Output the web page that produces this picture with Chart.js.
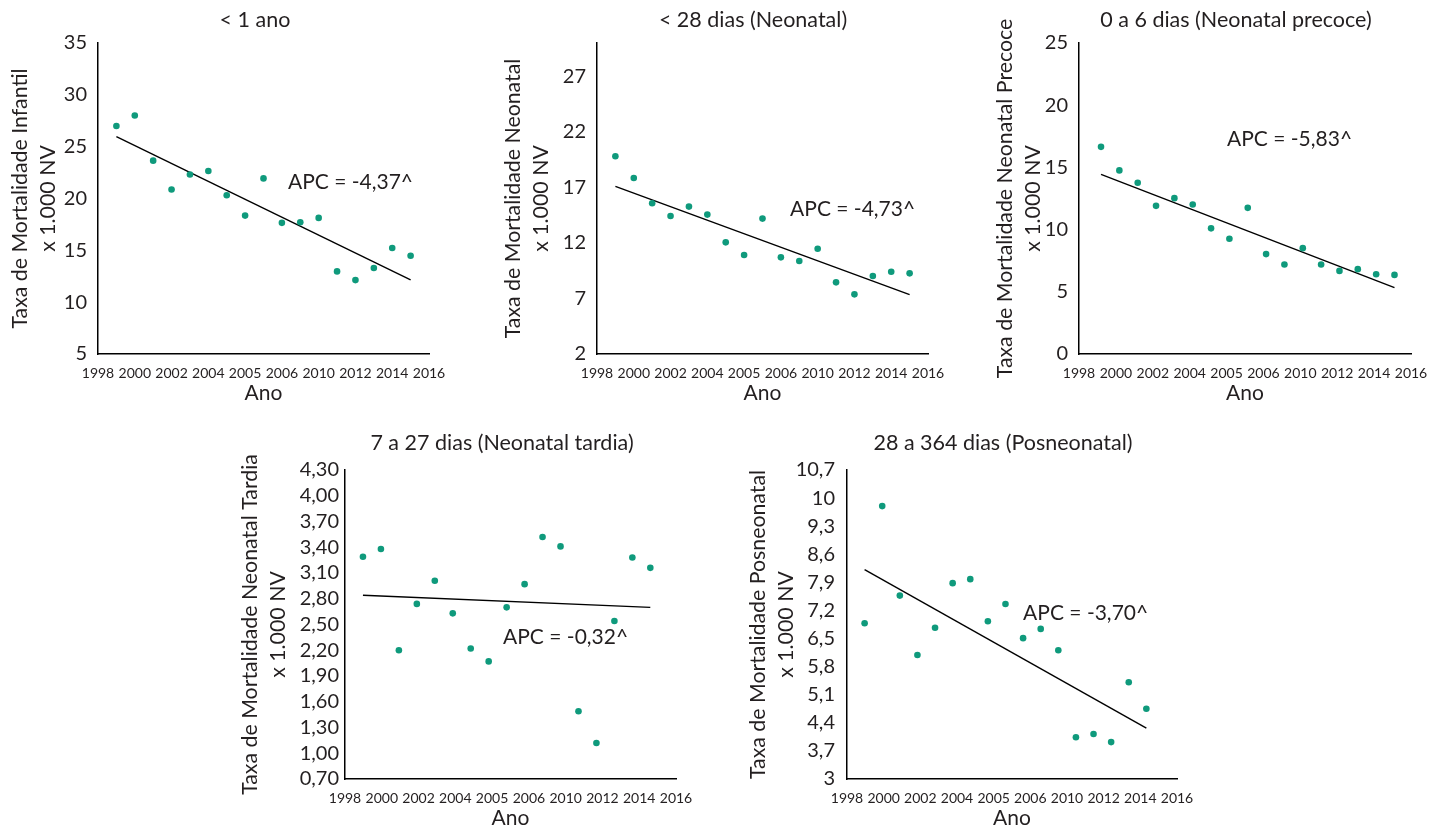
<!DOCTYPE html>
<html lang="pt">
<head>
<meta charset="utf-8">
<title>Taxas de mortalidade</title>
<script src="https://cdn.jsdelivr.net/npm/chart.js@4.4.1/dist/chart.umd.min.js"></script>
<style>
  html, body { margin: 0; padding: 0; background: #fff; overflow: hidden; }
  #wrap { position: relative; width: 1442px; height: 829px; overflow: hidden; }
  #wrap canvas { position: absolute; }
</style>
</head>
<body>
<div id="wrap">
  <canvas id="c1"></canvas>
  <canvas id="c2"></canvas>
  <canvas id="c3"></canvas>
  <canvas id="c4"></canvas>
  <canvas id="c5"></canvas>
</div>
<script>
// anos (1999-2015) e rotulos do eixo x como aparecem na figura
const years = [1999, 2000, 2001, 2002, 2003, 2004, 2005, 2006, 2007, 2008, 2009, 2010, 2011, 2012, 2013, 2014, 2015];
const xTickLabels = ['1998', '2000', '2002', '2004', '2005', '2006', '2010', '2012', '2014', '2016'];

// taxas x 1.000 NV
const infantil = [27.0, 28.0, 23.65, 20.87, 22.32, 22.65, 20.32, 18.35, 21.94, 17.65, 17.71, 18.13, 12.97, 12.13, 13.29, 15.23, 14.48];
const neonatal = [19.8, 17.85, 15.57, 14.42, 15.27, 14.55, 12.05, 10.91, 14.19, 10.7, 10.37, 11.48, 8.45, 7.37, 9.02, 9.41, 9.26];
const precoce = [16.65, 14.76, 13.77, 11.91, 12.53, 12.02, 10.1, 9.27, 11.75, 8.03, 7.19, 8.51, 7.19, 6.68, 6.82, 6.41, 6.36];
const tardia = [3.29, 3.38, 2.2, 2.74, 3.01, 2.63, 2.22, 2.07, 2.7, 2.97, 3.52, 3.41, 1.49, 1.12, 2.54, 3.28, 3.16];
const posneonatal = [6.88, 9.8, 7.57, 6.09, 6.77, 7.88, 7.98, 6.93, 7.36, 6.51, 6.74, 6.21, 4.04, 4.12, 3.92, 5.41, 4.75];

// reta de tendencia: valor em 1999 e em 2015
const trendInfantil = [25.97, 12.16];
const trendNeonatal = [17.1, 7.34];
const trendPrecoce = [14.44, 5.33];
const trendTardia = [2.84, 2.7];
const trendPosneonatal = [8.22, 4.27];

// marcas do eixo y
const ticksInfantil = [5, 10, 15, 20, 25, 30, 35];
const ticksNeonatal = [2, 7, 12, 17, 22, 27];
const ticksPrecoce = [0, 5, 10, 15, 20, 25];
const ticksTardia = [0.7, 1.0, 1.3, 1.6, 1.9, 2.2, 2.5, 2.8, 3.1, 3.4, 3.7, 4.0, 4.3];
const ticksPosneonatal = [3, 3.7, 4.4, 5.1, 5.8, 6.5, 7.2, 7.9, 8.6, 9.3, 10, 10.7];

const apcLabels = ['APC = -4,37^', 'APC = -4,73^', 'APC = -5,83^', 'APC = -0,32^', 'APC = -3,70^'];

const FONT = 'Lato';
const TEXT = '#231f20';
const DOT = '#0f9a7c';

const panels = [
  { id: 'c1', title: '< 1 ano', yTitle: ['Taxa de Mortalidade Infantil', 'x 1.000 NV'],
    values: infantil, trend: trendInfantil, yTicks: ticksInfantil, yMin: 5, yMax: 35, dec: 0,
    apc: apcLabels[0], apcAt: { x: 10.33, y: 21.54 },
    area: { l: 98, t: 43, r: 429, b: 354 }, titleX: 255, titleY: 20, top: 0, yGap: 78, yPad: 11, xRange: [0, 18] },
  { id: 'c2', title: '< 28 dias (Neonatal)', yTitle: ['Taxa de Mortalidade Neonatal', 'x 1.000 NV'],
    values: neonatal, trend: trendNeonatal, yTicks: ticksNeonatal, yMin: 2, yMax: 30, dec: 0,
    apc: apcLabels[1], apcAt: { x: 10.5, y: 15.0 },
    area: { l: 597, t: 43, r: 928, b: 354 }, titleX: 753, titleY: 20, top: 0, yGap: 84, yPad: 11, xRange: [0, 18] },
  { id: 'c3', title: '0 a 6 dias (Neonatal precoce)', yTitle: ['Taxa de Mortalidade Neonatal Precoce', 'x 1.000 NV'],
    values: precoce, trend: trendPrecoce, yTicks: ticksPrecoce, yMin: 0, yMax: 25, dec: 0,
    apc: apcLabels[2], apcAt: { x: 7.87, y: 17.3 },
    area: { l: 1079, t: 43, r: 1411, b: 354 }, titleX: 1236, titleY: 20, top: 0, yGap: 74, yPad: 11, xRange: [-0.2, 17.9] },
  { id: 'c4', title: '7 a 27 dias (Neonatal tardia)', yTitle: ['Taxa de Mortalidade Neonatal Tardia', 'x 1.000 NV'],
    values: tardia, trend: trendTardia, yTicks: ticksTardia, yMin: 0.7, yMax: 4.3, dec: 2,
    apc: apcLabels[3], apcAt: { x: 8.8, y: 2.355 },
    area: { l: 345, t: 470, r: 676, b: 779 }, titleX: 502, titleY: 443, top: 420, yGap: 95, yPad: 6, xRange: [0, 18.43] },
  { id: 'c5', title: '28 a 364 dias (Posneonatal)', yTitle: ['Taxa de Mortalidade Posneonatal', 'x 1.000 NV'],
    values: posneonatal, trend: trendPosneonatal, yTicks: ticksPosneonatal, yMin: 3, yMax: 10.7, dec: -1,
    apc: apcLabels[4], apcAt: { x: 10.0, y: 7.14 },
    area: { l: 847, t: 470, r: 1177, b: 779 }, titleX: 1003, titleY: 443, top: 420, yGap: 89, yPad: 12, xRange: [0, 18.74] }
];

function fmt(v, dec) {
  const s = dec > 0 ? v.toFixed(dec) : String(v);
  return s.replace('.', ',');
}

// escreve o APC dentro do grafico
const apcPlugin = {
  id: 'apc',
  afterDatasetsDraw(chart, args, opts) {
    const { ctx, scales: { x, y } } = chart;
    ctx.save();
    ctx.font = '21px ' + FONT;
    ctx.fillStyle = TEXT;
    ctx.textAlign = 'left';
    ctx.textBaseline = 'middle';
    ctx.fillText(opts.text, x.getPixelForValue(opts.x), y.getPixelForValue(opts.y));
    ctx.restore();
  }
};

const X_HEIGHT = 54;
const RIGHT_MARGIN = 20;
const TITLE_SIZE = 21.5;
const Y_TITLE_SIZE = 21.3;
const Y_TITLE_LH = 28;

panels.forEach(p => {
  const canvas = document.getElementById(p.id);
  const yWidth = p.yGap + Y_TITLE_LH / 2;
  const left = p.area.l - yWidth;
  const right = p.area.r + RIGHT_MARGIN;
  const width = right - left;
  const height = p.area.b + X_HEIGHT - p.top;
  // a caixa do titulo vai de 0 ate width - padRight: centro em titleX
  const padRight = width - 2 * (p.titleX - left);
  const titleLh = TITLE_SIZE * 1.2;
  const titlePadTop = p.titleY - p.top - titleLh / 2;
  const titlePadBottom = p.area.t - p.top - titlePadTop - titleLh;

  canvas.width = width;
  canvas.height = height;
  canvas.style.left = left + 'px';
  canvas.style.top = p.top + 'px';

  const [xMin, xMax] = p.xRange;

  new Chart(canvas, {
    type: 'scatter',
    data: {
      datasets: [{
        data: p.values.map((v, i) => ({ x: years[i] - 1998, y: v })),
        pointRadius: 3.3,
        pointBackgroundColor: DOT,
        pointBorderWidth: 0
      }, {
        type: 'line',
        data: [
          { x: years[0] - 1998, y: p.trend[0] },
          { x: years[years.length - 1] - 1998, y: p.trend[1] }
        ],
        borderColor: '#000',
        borderWidth: 1.4,
        pointRadius: 0,
        fill: false
      }]
    },
    options: {
      responsive: false,
      animation: false,
      layout: { padding: { left: 0, top: 0, right: padRight, bottom: 0 } },
      plugins: {
        legend: { display: false },
        tooltip: { enabled: false },
        title: {
          display: true,
          text: p.title,
          color: TEXT,
          font: { family: FONT, size: TITLE_SIZE, weight: 'normal' },
          padding: { top: titlePadTop, bottom: titlePadBottom }
        },
        apc: { text: p.apc, x: p.apcAt.x, y: p.apcAt.y }
      },
      scales: {
        x: {
          type: 'linear',
          min: xMin,
          max: xMax,
          grid: { display: false, drawTicks: false },
          border: { display: true, color: '#000', width: 1.5 },
          afterBuildTicks: s => {
            s.ticks = xTickLabels.map((_, i) => ({ value: xMin + i * (xMax - xMin) / (xTickLabels.length - 1) }));
          },
          afterFit: s => {
            s.height = X_HEIGHT;
            s.paddingLeft = 0;
            s.paddingRight = RIGHT_MARGIN;
          },
          ticks: {
            autoSkip: false,
            maxRotation: 0,
            padding: 11,
            color: TEXT,
            font: { family: FONT, size: 14 },
            callback: (v, i) => xTickLabels[i]
          },
          title: {
            display: true,
            text: 'Ano',
            color: TEXT,
            font: { family: FONT, size: 21 },
            padding: { top: 0, bottom: 2 }
          }
        },
        y: {
          type: 'linear',
          min: p.yMin,
          max: p.yMax,
          grid: { display: false, drawTicks: false },
          border: { display: true, color: '#000', width: 1.5 },
          afterBuildTicks: s => { s.ticks = p.yTicks.map(v => ({ value: v })); },
          afterFit: s => { s.width = yWidth; },
          ticks: {
            autoSkip: false,
            padding: p.yPad,
            color: TEXT,
            font: { family: FONT, size: 20 },
            callback: (v, i) => fmt(p.yTicks[i], p.dec)
          },
          title: {
            display: true,
            text: p.yTitle,
            color: TEXT,
            font: { family: FONT, size: Y_TITLE_SIZE, lineHeight: Y_TITLE_LH / Y_TITLE_SIZE },
            padding: 0
          }
        }
      }
    },
    plugins: [apcPlugin]
  });
});
</script>
</body>
</html>
